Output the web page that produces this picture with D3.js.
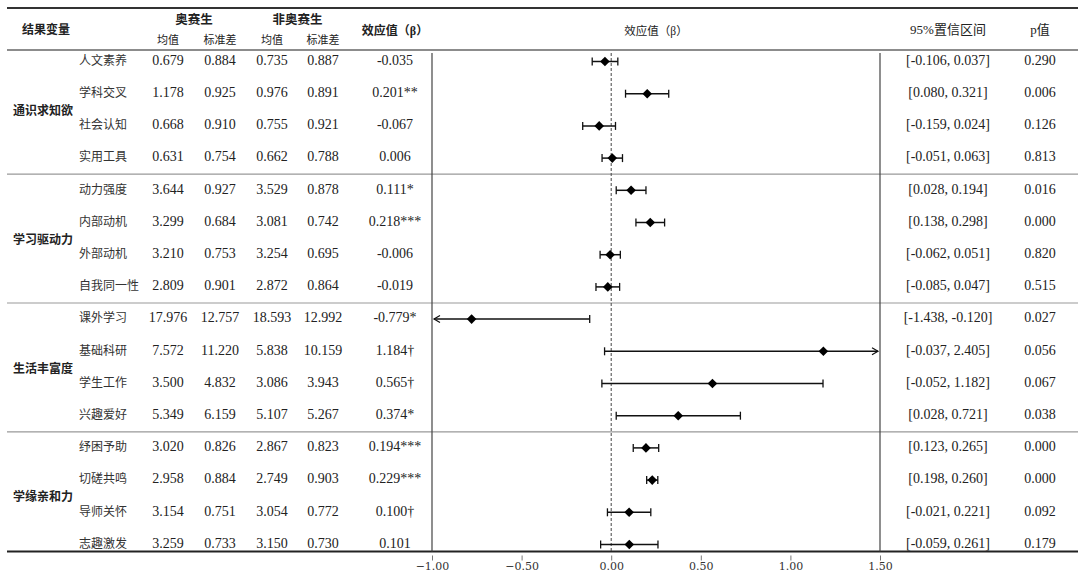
<!DOCTYPE html>
<html>
<head>
<meta charset="utf-8">
<script src="https://cdn.jsdelivr.net/npm/d3@7"></script>
<style>
  body { margin: 0; background: #fff; }
  svg text { font-family: "Liberation Serif", "Noto Sans CJK SC", serif; fill: #222; }
  .cjk { font-family: "Noto Sans CJK SC", sans-serif; }
  .axis text { font-family: "DejaVu Serif", "Liberation Serif", serif; font-size: 11px; fill: #333; }
  .axis line { stroke: #777; }
</style>
</head>
<body>
<div id="chart"></div>
<script>
const groups = ["通识求知欲", "学习驱动力", "生活丰富度", "学缘亲和力"];
const variables = ["人文素养", "学科交叉", "社会认知", "实用工具",
    "动力强度", "内部动机", "外部动机", "自我同一性",
    "课外学习", "基础科研", "学生工作", "兴趣爱好",
    "纾困予助", "切磋共鸣", "导师关怀", "志趣激发"];
const groupOf = [0, 0, 0, 0, 1, 1, 1, 1, 2, 2, 2, 2, 3, 3, 3, 3];

const olyMean = [0.679, 1.178, 0.668, 0.631, 3.644, 3.299, 3.210, 2.809, 17.976, 7.572, 3.500, 5.349, 3.020, 2.958, 3.154, 3.259];
const olySd = [0.884, 0.925, 0.910, 0.754, 0.927, 0.684, 0.753, 0.901, 12.757, 11.220, 4.832, 6.159, 0.826, 0.884, 0.751, 0.733];
const nonMean = [0.735, 0.976, 0.755, 0.662, 3.529, 3.081, 3.254, 2.872, 18.593, 5.838, 3.086, 5.107, 2.867, 2.749, 3.054, 3.150];
const nonSd = [0.887, 0.891, 0.921, 0.788, 0.878, 0.742, 0.695, 0.864, 12.992, 10.159, 3.943, 5.267, 0.823, 0.903, 0.772, 0.730];
const beta = [-0.035, 0.201, -0.067, 0.006, 0.111, 0.218, -0.006, -0.019, -0.779, 1.184, 0.565, 0.374, 0.194, 0.229, 0.100, 0.101];
const sig = ["", "**", "", "", "*", "***", "", "", "*", "†", "†", "*", "***", "***", "†", ""];
const ciLow = [-0.106, 0.080, -0.159, -0.051, 0.028, 0.138, -0.062, -0.085, -1.438, -0.037, -0.052, 0.028, 0.123, 0.198, -0.021, -0.059];
const ciHigh = [0.037, 0.321, 0.024, 0.063, 0.194, 0.298, 0.051, 0.047, -0.120, 2.405, 1.182, 0.721, 0.265, 0.260, 0.221, 0.261];
const pValues = ["0.290", "0.006", "0.126", "0.813", "0.016", "0.000", "0.820", "0.515", "0.027", "0.056", "0.067", "0.038", "0.000", "0.000", "0.092", "0.179"];

const axisTicks = [-1.00, -0.50, 0.00, 0.50, 1.00, 1.50];

const W = 1080, H = 577;
const left = 7, right = 1078;
const topLine = 8, headLine = 50, bottomLine = 551.5;
const plotL = 432, plotR = 880;
const colX = [168, 220, 272, 323, 395];
const ciX = 948, pX = 1040;

const loc = d3.formatLocale({ decimal: ".", thousands: ",", grouping: [3], currency: ["", ""], minus: "-" });
const f3 = loc.format(".3f");

const svg = d3.select("#chart")
    .append("svg")
    .attr("width", W)
    .attr("height", H);

const x = d3.scaleLinear()
    .domain([-1, 1.5])
    .range([plotL, plotR]);

const y = d3.scaleBand()
    .domain(variables)
    .range([45.4, 560.6]);

const cy = v => y(v) + y.bandwidth() / 2;

// header texts
svg.append("text").attr("class", "cjk").attr("x", 46).attr("y", 31)
    .attr("text-anchor", "middle").attr("dominant-baseline", "middle")
    .style("font-size", "12px").style("font-weight", "bold").text("结果变量");

[["奥赛生", 0], ["非奥赛生", 2]].forEach(([t, c]) => {
    svg.append("text").attr("class", "cjk").attr("x", (colX[c] + colX[c + 1]) / 2).attr("y", 21)
        .attr("text-anchor", "middle").attr("dominant-baseline", "middle")
        .style("font-size", "12.5px").style("font-weight", "bold").text(t);
    svg.append("text").attr("class", "cjk").attr("x", colX[c]).attr("y", 41)
        .attr("text-anchor", "middle").attr("dominant-baseline", "middle")
        .style("font-size", "11px").text("均值");
    svg.append("text").attr("class", "cjk").attr("x", colX[c + 1]).attr("y", 41)
        .attr("text-anchor", "middle").attr("dominant-baseline", "middle")
        .style("font-size", "11px").text("标准差");
});

svg.append("text").attr("x", colX[4]).attr("y", 32)
    .attr("text-anchor", "middle").attr("dominant-baseline", "middle")
    .style("font-size", "12px").style("font-weight", "bold").text("效应值（β）");

svg.append("text").attr("x", (plotL + plotR) / 2).attr("y", 32)
    .attr("text-anchor", "middle").attr("dominant-baseline", "middle")
    .style("font-size", "11.5px").text("效应值（β）");
svg.append("text").attr("x", ciX).attr("y", 31)
    .attr("text-anchor", "middle").attr("dominant-baseline", "middle")
    .style("font-size", "13px").text("95%置信区间");
svg.append("text").attr("x", pX).attr("y", 31)
    .attr("text-anchor", "middle").attr("dominant-baseline", "middle")
    .style("font-size", "13px").text("p值");

// horizontal rules
svg.append("line").attr("x1", left).attr("x2", right).attr("y1", topLine).attr("y2", topLine)
    .attr("stroke", "#333").attr("stroke-width", 2.2);
svg.append("line").attr("x1", left).attr("x2", right).attr("y1", headLine).attr("y2", headLine)
    .attr("stroke", "#666").attr("stroke-width", 1.5);

const seps = d3.range(1, groups.length).map(g => {
    const i = groupOf.indexOf(g);
    return (cy(variables[i - 1]) + cy(variables[i])) / 2;
});
svg.selectAll(".sep")
    .data(seps)
    .enter()
    .append("line")
    .attr("class", "sep")
    .attr("x1", left).attr("x2", right)
    .attr("y1", d => d).attr("y2", d => d)
    .attr("stroke", "#999").attr("stroke-width", 1.2);

svg.append("line").attr("x1", left).attr("x2", right).attr("y1", bottomLine).attr("y2", bottomLine)
    .attr("stroke", "#222").attr("stroke-width", 2.2);

// plot frame
[plotL, plotR].forEach(px => {
    svg.append("line").attr("x1", px).attr("x2", px).attr("y1", headLine + 3).attr("y2", bottomLine)
        .attr("stroke", "#444").attr("stroke-width", 1.2);
});
svg.append("line").attr("x1", x(0)).attr("x2", x(0)).attr("y1", headLine + 3).attr("y2", bottomLine)
    .attr("stroke", "#444").attr("stroke-width", 1).attr("stroke-dasharray", "3,2");

// group labels
groups.forEach((g, gi) => {
    const rows = variables.filter((v, i) => groupOf[i] === gi);
    const mid = (cy(rows[0]) + cy(rows[rows.length - 1])) / 2;
    svg.append("text").attr("class", "cjk").attr("x", 43).attr("y", mid + 2)
        .attr("text-anchor", "middle").attr("dominant-baseline", "middle")
        .style("font-size", "12px").style("font-weight", "bold").text(g);
});

// table rows
const rows = variables.map((v, i) => ({
    name: v, i,
    cells: [f3(olyMean[i]), f3(olySd[i]), f3(nonMean[i]), f3(nonSd[i]), f3(beta[i]) + sig[i]]
}));

const rowG = svg.selectAll(".row")
    .data(rows)
    .enter()
    .append("g")
    .attr("class", "row")
    .attr("transform", d => `translate(0,${cy(d.name)})`);

rowG.append("text").attr("class", "cjk")
    .attr("x", 79).attr("dominant-baseline", "middle")
    .style("font-size", "12px").style("fill", "#333")
    .text(d => d.name);

rowG.selectAll(".cell")
    .data(d => d.cells)
    .enter()
    .append("text")
    .attr("class", "cell")
    .attr("x", (d, j) => colX[j])
    .attr("text-anchor", "middle").attr("dominant-baseline", "middle")
    .style("font-size", "14px")
    .text(d => d);

rowG.append("text")
    .attr("x", ciX).attr("text-anchor", "middle").attr("dominant-baseline", "middle")
    .style("font-size", "14px")
    .text(d => `[${f3(ciLow[d.i])}, ${f3(ciHigh[d.i])}]`);

rowG.append("text")
    .attr("x", pX).attr("text-anchor", "middle").attr("dominant-baseline", "middle")
    .style("font-size", "14px")
    .text(d => pValues[d.i]);

// forest marks
const [dMin, dMax] = x.domain();
const capH = 4;
const forest = rowG.append("g").attr("class", "forest");

forest.append("line")
    .attr("x1", d => x(Math.max(ciLow[d.i], dMin)) + (ciLow[d.i] < dMin ? 2 : 0))
    .attr("x2", d => x(Math.min(ciHigh[d.i], dMax)) - (ciHigh[d.i] > dMax ? 2 : 0))
    .attr("stroke", "#111").attr("stroke-width", 1.5);

forest.each(function (d) {
    const g = d3.select(this);
    const lo = ciLow[d.i], hi = ciHigh[d.i];
    if (lo < dMin) {
        const ax = x(dMin) + 2;
        g.append("path").attr("d", `M${ax + 6},${-3.5} L${ax},0 L${ax + 6},${3.5}`)
            .attr("fill", "none").attr("stroke", "#111").attr("stroke-width", 1.2);
    } else {
        g.append("line").attr("x1", x(lo)).attr("x2", x(lo)).attr("y1", -capH).attr("y2", capH)
            .attr("stroke", "#111").attr("stroke-width", 1.3);
    }
    if (hi > dMax) {
        const ax = x(dMax) - 2;
        g.append("path").attr("d", `M${ax - 6},${-3.5} L${ax},0 L${ax - 6},${3.5}`)
            .attr("fill", "none").attr("stroke", "#111").attr("stroke-width", 1.2);
    } else {
        g.append("line").attr("x1", x(hi)).attr("x2", x(hi)).attr("y1", -capH).attr("y2", capH)
            .attr("stroke", "#111").attr("stroke-width", 1.3);
    }
});

// diamond marker, square rotated 45 degrees
const dm = 4.8;
forest.append("path")
    .attr("d", `M0,${-dm} L${dm},0 L0,${dm} L${-dm},0 Z`)
    .attr("transform", d => `translate(${x(beta[d.i])},0)`)
    .attr("fill", "#000");

// axis
const axis = svg.append("g")
    .attr("class", "axis")
    .attr("transform", `translate(0,${bottomLine + 4})`)
    .call(d3.axisBottom(x).tickValues(axisTicks).tickSize(5).tickPadding(2).tickFormat(d3.format(".2f")));
axis.select(".domain").remove();
</script>
</body>
</html>
